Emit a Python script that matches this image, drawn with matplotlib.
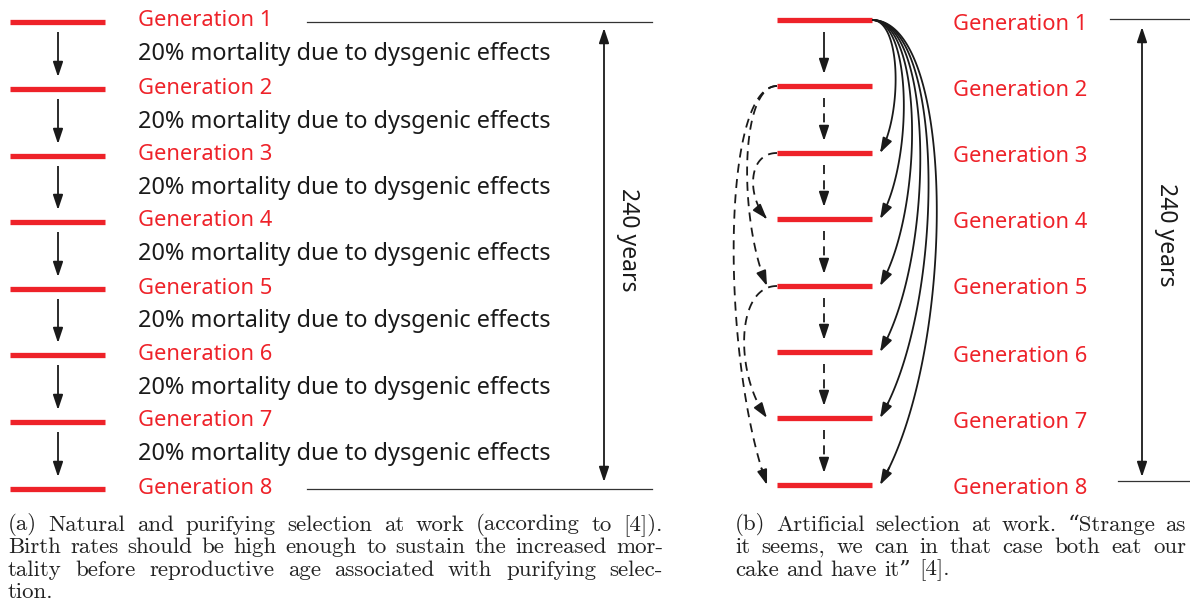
import numpy as np
import matplotlib
matplotlib.use("Agg")
import matplotlib.pyplot as plt
from matplotlib.patches import FancyArrowPatch

# data
generations = [1, 2, 3, 4, 5, 6, 7, 8]
gen_labels = ["Generation %d" % g for g in generations]
mortality_text = "20% mortality due to dysgenic effects"
span_text = "240 years"
solid_links = [(1, 3), (1, 4), (1, 5), (1, 6), (1, 7), (1, 8)]   # gen1 -> later gens (right side)
dashed_links = [(2, 5), (2, 8), (3, 4), (5, 7)]                  # dashed links on left side
caption_a = ["(a) Natural and purifying selection at work (according to [4]).",
             "Birth rates should be high enough to sustain the increased mor-",
             "tality before reproductive age associated with purifying selec-",
             "tion."]
caption_b = ["(b) Artificial selection at work. \u201cStrange as",
             "it seems, we can in that case both eat our",
             "cake and have it\u201d [4]."]

RED = "#ee2229"
W, H = 1190, 611
fig = plt.figure(figsize=(W / 100, H / 100), dpi=100)
ax = fig.add_axes([0, 0, 1, 1])
ax.set_xlim(0, W)
ax.set_ylim(H, 0)
ax.axis("off")

label_font = ["Noto Sans", "DejaVu Sans"]
cap_font = ["cmr10", "DejaVu Serif"]
renderer = fig.canvas.get_renderer()


def bezier(p0, p1, p2, p3, n=120):
    t = np.linspace(0, 1, n)[:, None]
    p0, p1, p2, p3 = [np.array(p, float) for p in (p0, p1, p2, p3)]
    return (1 - t) ** 3 * p0 + 3 * (1 - t) ** 2 * t * p1 + 3 * (1 - t) * t ** 2 * p2 + t ** 3 * p3


def arrow_line(pts, dashed=False, lw=1.3):
    pts = np.asarray(pts, float)
    ax.plot(pts[:-2, 0], pts[:-2, 1], color="#1a1a1a", lw=lw,
            linestyle=(0, (5, 3.5)) if dashed else "-", solid_capstyle="butt")
    head = FancyArrowPatch(posA=tuple(pts[-6] if len(pts) > 6 else pts[0]), posB=tuple(pts[-1]),
                           arrowstyle="-|>,head_length=0.9,head_width=0.3",
                           mutation_scale=10, color="#1a1a1a", lw=lw,
                           shrinkA=0, shrinkB=0)
    ax.add_patch(head)


def caption_line(x0, x1, y, line, justify, size=16.5):
    # place words one by one so the line can be justified like the LaTeX caption
    words = line.split(" ")
    texts = [ax.text(0, y, w_, fontsize=size, family=cap_font, ha="left", va="center",
                     color="#222222") for w_ in words]
    widths = [t.get_window_extent(renderer).width for t in texts]
    gap = 0.33 * size * 100 / 72
    if justify and len(words) > 1:
        gap = (x1 - x0 - sum(widths)) / (len(words) - 1)
    x = x0
    for t, wd in zip(texts, widths):
        t.set_x(x)
        x += wd + gap


# ---------- panel (a) ----------
ya = np.array([22, 89, 156, 222, 289, 355, 422, 489], float)
for i, g in enumerate(generations):
    ax.plot([10, 105], [ya[i], ya[i]], color=RED, lw=3.8, solid_capstyle="butt")
    ax.text(138, ya[i] - 1, gen_labels[i], color=RED, fontsize=15.8, family=label_font,
            ha="left", va="center")
    if i < len(generations) - 1:
        pts = np.linspace([58, ya[i] + 10], [58, ya[i + 1] - 12], 20)
        arrow_line(pts)
        ax.text(138, (ya[i] + ya[i + 1]) / 2 - 1, mortality_text, color="#1a1a1a",
                fontsize=16.9, family=label_font, ha="left", va="center")

ax.plot([307, 652], [ya[0], ya[0]], color="#333333", lw=0.9)
ax.plot([307, 652], [ya[-1], ya[-1]], color="#333333", lw=0.9)
ax.add_patch(FancyArrowPatch((604, 28), (604, 482), arrowstyle="<|-|>,head_length=0.9,head_width=0.3",
                             mutation_scale=10, color="#1a1a1a", lw=1.3, shrinkA=0, shrinkB=0))
ax.text(628, 240, span_text, rotation=-90, fontsize=16.5, family=label_font,
        ha="center", va="center", color="#1a1a1a")

# ---------- panel (b) ----------
yb = np.array([20, 86, 153, 219, 286, 352, 418, 485], float)
yl = np.array([24, 90, 156, 223, 289, 356, 422, 488], float)
xl, xr = 777, 872
for i, g in enumerate(generations):
    ax.plot([xl, xr], [yb[i], yb[i]], color=RED, lw=3.8, solid_capstyle="butt")
    ax.text(953, yl[i], gen_labels[i], color=RED, fontsize=15.8, family=label_font,
            ha="left", va="center")
    if i < len(generations) - 1:
        pts = np.linspace([824, yb[i] + 12], [824, yb[i + 1] - 12], 20)
        arrow_line(pts, dashed=(i > 0))

for a, b in solid_links:
    y0, y1 = yb[a - 1], yb[b - 1]
    w = 30 + (b - 3) * 11.0
    pts = bezier((xr, y0), (xr + w, y0), (xr + w, y1 - 0.28 * (y1 - y0)), (xr + 8, y1))
    arrow_line(pts)

dash_w = {(2, 5): 38, (2, 8): 56, (3, 4): 30, (5, 7): 42}
for a, b in dashed_links:
    y0, y1 = yb[a - 1], yb[b - 1]
    w = dash_w[(a, b)]
    pts = bezier((xl, y0), (xl - w, y0), (xl - w, y1 - 0.32 * (y1 - y0)), (xl - 10, y1))
    arrow_line(pts, dashed=True)

ax.plot([1110, W], [19, 19], color="#333333", lw=0.9)
ax.plot([1118, W], [481, 481], color="#333333", lw=0.9)
ax.add_patch(FancyArrowPatch((1142, 27), (1142, 477), arrowstyle="<|-|>,head_length=0.9,head_width=0.3",
                             mutation_scale=10, color="#1a1a1a", lw=1.3, shrinkA=0, shrinkB=0))
ax.text(1166, 235, span_text, rotation=-90, fontsize=16.5, family=label_font,
        ha="center", va="center", color="#1a1a1a")

# ---------- captions ----------
for k, line in enumerate(caption_a):
    caption_line(8, 663, 525 + k * 22.5, line, justify=(k < len(caption_a) - 1))
for k, line in enumerate(caption_b):
    caption_line(735, 1186, 525 + k * 22.5, line, justify=(k < len(caption_b) - 1))

fig.savefig("out.png", dpi=100)
